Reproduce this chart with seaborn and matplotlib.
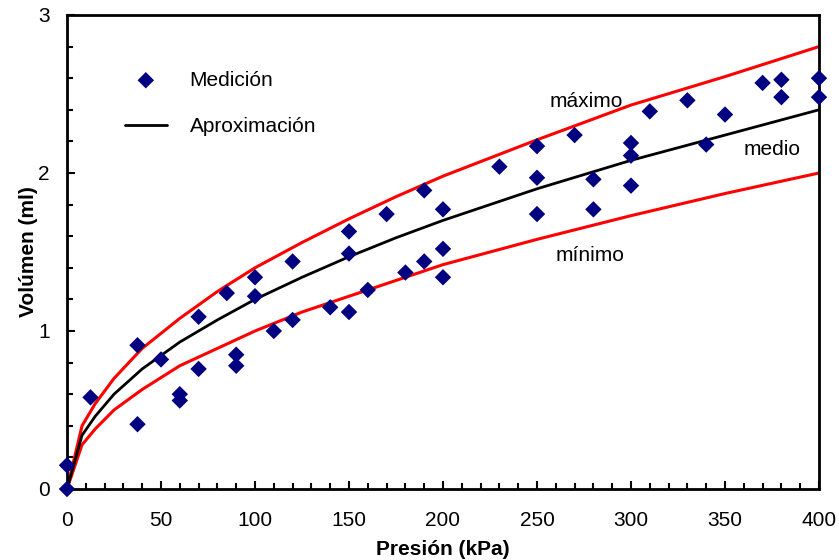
import numpy as np
import pandas as pd
import matplotlib
matplotlib.use("Agg")
import matplotlib.pyplot as plt
import seaborn as sns
from matplotlib.ticker import MultipleLocator

# Measured points (Medición)
presion_med = [0, 0, 12.5, 37.5, 37.5, 50, 60, 60, 70, 70, 85, 90, 90, 100, 100, 110,
               120, 120, 140, 150, 150, 150, 160, 170, 180, 190, 190, 200, 200, 200,
               230, 250, 250, 250, 270, 280, 280, 300, 300, 300, 310, 330, 340, 350,
               370, 380, 380, 400, 400]
volumen_med = [0.00, 0.15, 0.58, 0.91, 0.41, 0.82, 0.60, 0.56, 0.76, 1.09, 1.24, 0.85, 0.78,
               1.34, 1.22, 1.00, 1.44, 1.07, 1.15, 1.12, 1.63, 1.49, 1.26, 1.74, 1.37,
               1.89, 1.44, 1.77, 1.52, 1.34, 2.04, 2.17, 1.97, 1.74, 2.24, 1.96, 1.77,
               2.19, 2.11, 1.92, 2.39, 2.46, 2.18, 2.37, 2.57, 2.59, 2.48, 2.60, 2.48]

# Approximation curves
presion_curva = [0, 8, 15, 25, 40, 60, 80, 100, 125, 150, 175, 200, 250, 300, 350, 400]
volumen_medio = [0.00, 0.34, 0.46, 0.60, 0.76, 0.93, 1.07, 1.20, 1.34, 1.47, 1.59, 1.70,
                 1.90, 2.08, 2.24, 2.40]
volumen_maximo = [0.00, 0.40, 0.54, 0.70, 0.89, 1.08, 1.25, 1.40, 1.56, 1.71, 1.85, 1.98,
                  2.21, 2.43, 2.61, 2.80]
volumen_minimo = [0.00, 0.28, 0.38, 0.50, 0.63, 0.78, 0.89, 1.00, 1.12, 1.22, 1.32, 1.42,
                  1.58, 1.73, 1.87, 2.00]

sns.set_style("ticks")
plt.rcParams['font.family'] = ['Liberation Sans', 'DejaVu Sans']
plt.rcParams['text.color'] = 'black'
plt.rcParams['axes.labelcolor'] = 'black'
plt.rcParams['xtick.color'] = 'black'
plt.rcParams['ytick.color'] = 'black'
FS = 15

fig = plt.figure(figsize=(8.39, 5.60), dpi=100)
ax = fig.add_axes([67/839, 71/560, 752/839, 474/560])

df_med = pd.DataFrame({"x": presion_med, "y": volumen_med})
df_c = pd.DataFrame({"x": presion_curva, "medio": volumen_medio,
                     "max": volumen_maximo, "min": volumen_minimo})

sns.lineplot(data=df_c, x="x", y="max", color="#FF0000", lw=2.2, ax=ax,
             sort=False, estimator=None, label="_nolegend_")
sns.lineplot(data=df_c, x="x", y="min", color="#FF0000", lw=2.2, ax=ax,
             sort=False, estimator=None, label="_nolegend_")
sns.lineplot(data=df_c, x="x", y="medio", color="black", lw=2.0, ax=ax,
             sort=False, estimator=None, label="Aproximación")
sns.scatterplot(data=df_med, x="x", y="y", marker="D", s=70, color="#000080",
                edgecolor="none", ax=ax, label="Medición", zorder=5, clip_on=False)

ax.set_xlim(0, 400)
ax.set_ylim(0, 3)
ax.xaxis.set_major_locator(MultipleLocator(50))
ax.xaxis.set_minor_locator(MultipleLocator(10))
ax.yaxis.set_major_locator(MultipleLocator(1))
ax.yaxis.set_minor_locator(MultipleLocator(0.2))
ax.tick_params(axis="both", which="both", direction="in", color="black", width=1.5,
               top=False, right=False, labelcolor="black")
ax.tick_params(axis="both", which="major", length=6, labelsize=FS)
ax.tick_params(axis="both", which="minor", length=4)
ax.tick_params(axis="x", which="major", pad=16)
ax.tick_params(axis="y", which="major", pad=12.5)
for sp in ax.spines.values():
    sp.set_linewidth(2)
    sp.set_color("black")
    sp.set_visible(True)

ax.set_xlabel("Presión (kPa)", fontsize=FS, fontweight="bold", labelpad=7)
ax.set_ylabel("Volúmen (ml)", fontsize=FS, fontweight="bold", labelpad=0)

ax.text(276, 2.45, "máximo", fontsize=FS, ha="center", va="center")
ax.text(375, 2.15, "medio", fontsize=FS, ha="center", va="center")
ax.text(278, 1.48, "mínimo", fontsize=FS, ha="center", va="center")

h, l = ax.get_legend_handles_labels()
order = [l.index("Medición"), l.index("Aproximación")]
ax.legend([h[i] for i in order], [l[i] for i in order], loc="upper left",
          bbox_to_anchor=(0.066, 0.9), frameon=False, fontsize=FS,
          handlelength=2.0, handletextpad=1.1, labelspacing=1.3, borderaxespad=0)

fig.savefig("out.png", dpi=100, facecolor="white")
